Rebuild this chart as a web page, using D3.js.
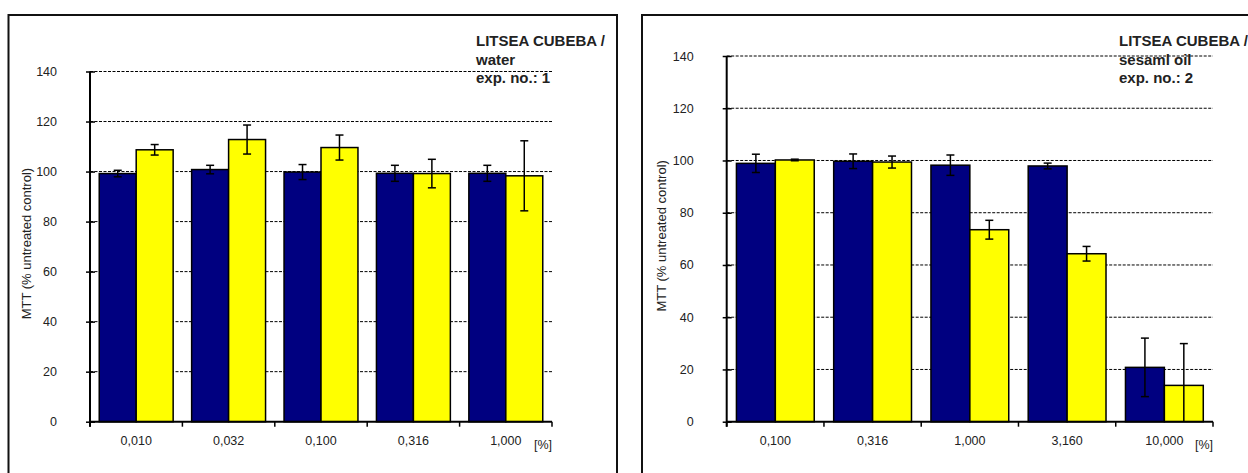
<!DOCTYPE html>
<html>
<head>
<meta charset="utf-8">
<script src="https://cdn.jsdelivr.net/npm/d3@7"></script>
<style>
  body { margin: 0; background: #fff; }
  svg { display: block; font-family: "Liberation Sans", Arial, sans-serif; }
</style>
</head>
<body>
<svg id="chart" width="1248" height="473"></svg>
<script>
// ---- data ----
var seriesNames = ["navy", "yellow"];
var yTicks = [0, 20, 40, 60, 80, 100, 120, 140];

// exp 1: water
var waterCategories = ["0,010", "0,032", "0,100", "0,316", "1,000"];
var waterNavy = [99.2, 100.8, 99.8, 99.3, 99.3];
var waterNavyErr = [1.3, 1.7, 3.0, 3.2, 3.2];
var waterYellow = [108.7, 112.8, 109.6, 99.2, 98.3];
var waterYellowErr = [2.1, 5.8, 5.0, 5.7, 14.0];
var waterTitle = ["LITSEA CUBEBA /", "water", "exp. no.: 1"];

// exp 2: sesame oil
var oilCategories = ["0,100", "0,316", "1,000", "3,160", "10,000"];
var oilNavy = [98.9, 99.7, 98.2, 97.9, 20.8];
var oilNavyErr = [3.5, 2.8, 3.9, 1.1, 11.2];
var oilYellow = [100.2, 99.4, 73.5, 64.3, 13.9];
var oilYellowErr = [0.3, 2.3, 3.6, 2.8, 16.0];
var oilTitle = ["LITSEA CUBEBA /", "sesaml oil", "exp. no.: 2"];

var colors = {navy: "#000080", yellow: "#ffff00"};

var svg = d3.select("#chart");

function drawPanel(cfg) {
    var g = svg.append("g");

    // outer frame
    g.append("rect")
        .attr("x", cfg.frame.x)
        .attr("y", cfg.frame.y)
        .attr("width", cfg.frame.w)
        .attr("height", cfg.frame.h)
        .style("fill", "none")
        .style("stroke", "#111")
        .style("stroke-width", 2);

    var x = d3.scaleBand()
        .domain(cfg.categories)
        .range([cfg.left, cfg.right])
        .paddingInner(0.2)
        .paddingOuter(0.1);
    var x1 = d3.scaleBand()
        .domain(seriesNames)
        .range([0, x.bandwidth()]);
    var y = d3.scaleLinear()
        .domain([0, 140])
        .range([cfg.bottom, cfg.top]);

    // dashed gridlines
    g.selectAll(".grid")
        .data(yTicks.filter(function(d) { return d > 0; }))
        .enter()
        .append("line")
        .attr("x1", cfg.left)
        .attr("x2", cfg.right)
        .attr("y1", function(d) { return y(d); })
        .attr("y2", function(d) { return y(d); })
        .style("stroke", "#000")
        .style("stroke-width", 1)
        .style("stroke-dasharray", "3,1.5");

    var rows = cfg.categories.map(function(c, i) {
        return [
            {cat: c, s: "navy", v: cfg.navy[i], e: cfg.navyErr[i]},
            {cat: c, s: "yellow", v: cfg.yellow[i], e: cfg.yellowErr[i]}
        ];
    });
    var flat = d3.merge(rows);

    g.selectAll(".bar")
        .data(flat)
        .enter()
        .append("rect")
        .attr("x", function(d) { return x(d.cat) + x1(d.s); })
        .attr("y", function(d) { return y(d.v); })
        .attr("width", x1.bandwidth())
        .attr("height", function(d) { return y(0) - y(d.v); })
        .style("fill", function(d) { return colors[d.s]; })
        .style("stroke", "#000")
        .style("stroke-width", 1.5);

    // error bars
    var eb = g.selectAll(".err")
        .data(flat)
        .enter()
        .append("g");
    function cx(d) { return x(d.cat) + x1(d.s) + x1.bandwidth() / 2; }
    eb.append("line")
        .attr("x1", cx).attr("x2", cx)
        .attr("y1", function(d) { return y(d.v + d.e); })
        .attr("y2", function(d) { return y(Math.max(0, d.v - d.e)); })
        .style("stroke", "#000").style("stroke-width", 1.5);
    eb.append("line")
        .attr("x1", function(d) { return cx(d) - 4; })
        .attr("x2", function(d) { return cx(d) + 4; })
        .attr("y1", function(d) { return y(d.v + d.e); })
        .attr("y2", function(d) { return y(d.v + d.e); })
        .style("stroke", "#000").style("stroke-width", 1.5);
    eb.filter(function(d) { return d.v - d.e > 0; })
        .append("line")
        .attr("x1", function(d) { return cx(d) - 4; })
        .attr("x2", function(d) { return cx(d) + 4; })
        .attr("y1", function(d) { return y(d.v - d.e); })
        .attr("y2", function(d) { return y(d.v - d.e); })
        .style("stroke", "#000").style("stroke-width", 1.5);

    // y axis
    var yAxis = g.append("g")
        .attr("transform", "translate(" + cfg.left + ",0)")
        .call(d3.axisLeft(y).tickValues(yTicks).tickSizeOuter(0).tickPadding(27));
    yAxis.select(".domain").remove();
    yAxis.selectAll(".tick line")
        .attr("x1", 5).attr("x2", -4)
        .style("stroke", "#000").style("stroke-width", 1.5);
    yAxis.selectAll(".tick text")
        .style("font-size", "12.5px")
        .style("fill", "#222")
        .style("font-family", "Liberation Sans, Arial, sans-serif");
    g.append("line")
        .attr("x1", cfg.left).attr("x2", cfg.left)
        .attr("y1", y(140)).attr("y2", y(0) + 5)
        .style("stroke", "#000").style("stroke-width", 2);

    // x axis
    g.append("line")
        .attr("x1", cfg.left).attr("x2", cfg.right)
        .attr("y1", y(0)).attr("y2", y(0))
        .style("stroke", "#000").style("stroke-width", 2);
    var step = x.step();
    g.selectAll(".xtick")
        .data(d3.range(cfg.categories.length + 1))
        .enter()
        .append("line")
        .attr("x1", function(i) { return cfg.left + i * step; })
        .attr("x2", function(i) { return cfg.left + i * step; })
        .attr("y1", y(0))
        .attr("y2", y(0) + 5)
        .style("stroke", "#000").style("stroke-width", 1.5);
    g.selectAll(".xlabel")
        .data(cfg.categories)
        .enter()
        .append("text")
        .attr("x", function(d) { return x(d) + x.bandwidth() / 2; })
        .attr("y", y(0) + 23)
        .style("text-anchor", "middle")
        .style("font-size", "12.5px")
        .style("fill", "#222")
        .text(function(d) { return d; });
    g.append("text")
        .attr("x", cfg.right)
        .attr("y", y(0) + 27)
        .style("text-anchor", "end")
        .style("font-size", "12.5px")
        .style("fill", "#222")
        .text("[%]");

    // y label
    g.append("text")
        .attr("transform", "translate(" + (cfg.left - cfg.ylabelOff) + "," + ((cfg.top + cfg.bottom) / 2 - 3) + ") rotate(-90)")
        .style("text-anchor", "middle")
        .style("font-size", "13px")
        .style("fill", "#222")
        .text("MTT (% untreated control)");

    // title block
    g.selectAll(".title")
        .data(cfg.title)
        .enter()
        .append("text")
        .attr("x", cfg.titleX)
        .attr("y", function(d, i) { return 46 + i * 18.5; })
        .style("font-size", "15px")
        .style("font-weight", "bold")
        .style("fill", "#222")
        .text(function(d) { return d; });
}

drawPanel({
    frame: {x: 8.5, y: 15, w: 608.5, h: 470},
    left: 90, right: 552, top: 71.5, bottom: 421.7,
    ylabelOff: 59,
    categories: waterCategories,
    navy: waterNavy, navyErr: waterNavyErr,
    yellow: waterYellow, yellowErr: waterYellowErr,
    title: waterTitle, titleX: 476
});

drawPanel({
    frame: {x: 642, y: 15, w: 700, h: 470},
    left: 726.7, right: 1213, top: 56, bottom: 421.7,
    ylabelOff: 61,
    categories: oilCategories,
    navy: oilNavy, navyErr: oilNavyErr,
    yellow: oilYellow, yellowErr: oilYellowErr,
    title: oilTitle, titleX: 1119
});
</script>
</body>
</html>
